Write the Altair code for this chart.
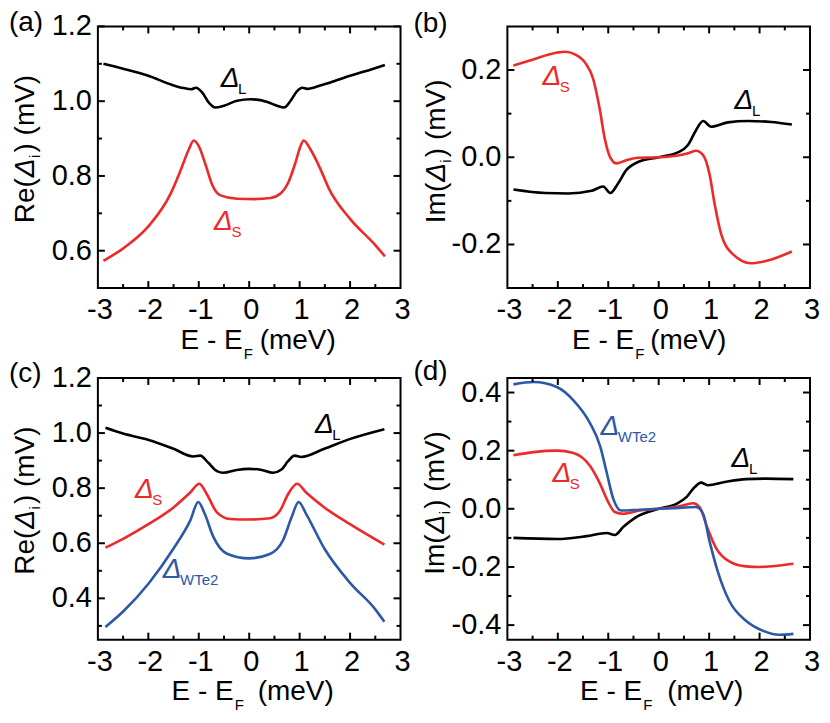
import altair as alt
import pandas as pd

FONT = "Liberation Sans, Arial, Helvetica, sans-serif"
FS = 28
FS_TICK = 29
SUB = 15
RED = "#EC2A2A"
BLUE = "#2B59A8"
BLACK = "#000000"
W, H = 303, 262

# ---------------- data ----------------
# (a) Re(Delta_i)
a_L_E = [-2.89, -2.5, -2.0, -1.56, -1.3, -1.15, -1.06, -0.93, -0.80, -0.67, -0.50, -0.24, 0.03,
         0.36, 0.55, 0.69, 0.82, 0.95, 1.05, 1.15, 1.41, 1.61, 2.0, 2.3, 2.69]
a_L_v = [1.100, 1.087, 1.068, 1.045, 1.035, 1.032, 1.036, 1.023, 0.996, 0.983, 0.988, 1.001, 1.005,
         0.998, 0.988, 0.983, 1.001, 1.027, 1.036, 1.033, 1.042, 1.050, 1.068, 1.080, 1.097]
a_S_E = [-2.89, -2.49, -2.0, -1.56, -1.36, -1.20, -1.10, -1.00, -0.86, -0.73, -0.57, -0.24, 0.09,
         0.42, 0.62, 0.78, 0.92, 1.02, 1.08, 1.21, 1.41, 1.58, 2.0, 2.5, 2.69]
a_S_v = [0.573, 0.607, 0.665, 0.752, 0.815, 0.870, 0.895, 0.880, 0.828, 0.775, 0.748, 0.739, 0.738,
         0.741, 0.753, 0.784, 0.837, 0.881, 0.895, 0.872, 0.819, 0.766, 0.685, 0.615, 0.585]

# (b) Im(Delta_i)
b_S_E = [-2.88, -2.52, -2.01, -1.86, -1.66, -1.46, -1.30, -1.17, -1.07, -0.97, -0.84, -0.67, -0.41,
         0.0, 0.38, 0.60, 0.74, 0.88, 1.01, 1.11, 1.24, 1.47, 1.83, 2.16, 2.64]
b_S_v = [0.210, 0.223, 0.240, 0.242, 0.236, 0.217, 0.180, 0.111, 0.043, 0.002, -0.014, -0.008, -0.001,
         0.0, 0.004, 0.010, 0.015, 0.005, -0.040, -0.108, -0.177, -0.222, -0.243, -0.237, -0.216]
b_L_E = [-2.88, -2.25, -1.79, -1.33, -1.10, -0.96, -0.80, -0.64, -0.41, 0.0, 0.38, 0.58, 0.74,
         0.88, 1.04, 1.37, 1.77, 2.23, 2.64]
b_L_v = [-0.074, -0.082, -0.083, -0.077, -0.067, -0.082, -0.059, -0.029, -0.011, 0.0, 0.011, 0.028, 0.062,
         0.083, 0.070, 0.080, 0.083, 0.081, 0.075]

# (c) Re(Delta_i) with WTe2
c_L_E = [-2.85, -2.5, -1.99, -1.5, -1.11, -0.97, -0.81, -0.64, -0.51, -0.25, 0.0, 0.25, 0.47,
         0.64, 0.77, 0.90, 1.03, 1.49, 1.99, 2.68]
c_L_v = [1.019, 0.998, 0.975, 0.943, 0.915, 0.918, 0.892, 0.862, 0.856, 0.866, 0.870, 0.866, 0.856,
         0.868, 0.898, 0.918, 0.913, 0.943, 0.978, 1.014]
c_S_E = [-2.85, -2.49, -1.99, -1.5, -1.17, -0.99, -0.84, -0.64, -0.38, 0.0, 0.41, 0.61, 0.77,
         0.95, 1.13, 1.49, 1.99, 2.68]
c_S_v = [0.584, 0.617, 0.670, 0.730, 0.784, 0.816, 0.778, 0.712, 0.688, 0.686, 0.691, 0.718, 0.778,
         0.816, 0.784, 0.730, 0.670, 0.595]
c_W_E = [-2.85, -2.49, -1.99, -1.5, -1.17, -1.01, -0.88, -0.71, -0.45, 0.0, 0.41, 0.67, 0.84,
         0.98, 1.13, 1.49, 1.99, 2.50, 2.68]
c_W_v = [0.296, 0.354, 0.455, 0.581, 0.682, 0.750, 0.706, 0.623, 0.563, 0.545, 0.561, 0.611, 0.694,
         0.750, 0.706, 0.581, 0.458, 0.360, 0.315]

# (d) Im(Delta_i) with WTe2
d_W_E = [-2.88, -2.48, -2.02, -1.69, -1.36, -1.16, -1.03, -0.90, -0.74, -0.38, 0.0, 0.41, 0.74,
         0.88, 1.01, 1.17, 1.40, 1.73, 2.06, 2.39, 2.67]
d_W_v = [0.428, 0.436, 0.419, 0.373, 0.294, 0.215, 0.124, 0.034, -0.006, -0.003, 0.0, 0.003, 0.006,
         -0.017, -0.113, -0.215, -0.317, -0.385, -0.419, -0.433, -0.430]
d_S_E = [-2.88, -2.48, -2.02, -1.69, -1.36, -1.16, -1.0, -0.87, -0.70, -0.38, 0.0, 0.41, 0.68,
         0.81, 0.97, 1.14, 1.40, 1.73, 1.99, 2.39, 2.67]
d_S_v = [0.184, 0.195, 0.200, 0.192, 0.147, 0.085, 0.023, -0.011, -0.017, -0.006, 0.0, 0.009, 0.019,
         0.006, -0.068, -0.136, -0.181, -0.198, -0.200, -0.195, -0.189]
d_L_E = [-2.88, -2.02, -1.43, -1.03, -0.87, -0.70, -0.47, 0.0, 0.35, 0.55, 0.71, 0.84, 0.97,
         1.34, 1.73, 2.13, 2.67]
d_L_v = [-0.100, -0.104, -0.094, -0.083, -0.090, -0.062, -0.031, 0.0, 0.017, 0.040, 0.074, 0.090, 0.081,
         0.093, 0.102, 0.104, 0.102]

# axis ticks and tick labels
x_label_vals = [-3, -2, -1, 0, 1, 2, 3]
x_label_text = ["-3", "-2", "-1", "0", "1", "2", "3"]
x_major = [-2, -1, 0, 1, 2]
x_minor = [-2.5, -1.5, -0.5, 0.5, 1.5, 2.5]

a_ydom, a_ymaj, a_ymin = [0.5, 1.2], [0.6, 0.8, 1.0, 1.2], [0.7, 0.9, 1.1]
a_ylab = ["0.6", "0.8", "1.0", "1.2"]
b_ydom, b_ymaj, b_ymin = [-0.3, 0.3], [-0.2, 0.0, 0.2], [-0.1, 0.1]
b_ylab = ["-0.2", "0.0", "0.2"]
c_ydom, c_ymaj, c_ymin = [0.25, 1.2], [0.4, 0.6, 0.8, 1.0, 1.2], [0.3, 0.5, 0.7, 0.9, 1.1]
c_ylab = ["0.4", "0.6", "0.8", "1.0", "1.2"]
d_ydom, d_ymaj, d_ymin = [-0.45, 0.45], [-0.4, -0.2, 0.0, 0.2, 0.4], [-0.3, -0.1, 0.1, 0.3]
d_ylab = ["-0.4", "-0.2", "0.0", "0.2", "0.4"]

# annotations: (E, value, subscript, colour)
a_ann = [(-0.38, 1.060, "L", BLACK), (-0.51, 0.678, "S", RED)]
b_ann = [(-2.12, 0.183, "S", RED), (1.69, 0.128, "L", BLACK)]
c_ann = [(1.49, 1.031, "L", BLACK), (-2.08, 0.792, "S", RED), (-1.53, 0.503, "WTe2", BLUE)]
d_ann = [(-0.97, 0.283, "WTe2", BLUE), (-1.92, 0.119, "S", RED), (1.63, 0.172, "L", BLACK)]

COLORS = {"L": BLACK, "S": RED, "W": BLUE}


def txt(t, x, y, fs=FS, angle=0, align="left", baseline="alphabetic", style="normal", color=BLACK):
    return alt.Chart(pd.DataFrame({"t": [t]})).mark_text(
        font=FONT, fontSize=fs, angle=angle, align=align, baseline=baseline,
        fontStyle=style, color=color
    ).encode(text="t:N", x=alt.value(x), y=alt.value(y))


def panel(tag, tag_y, tag_x, series, ydom, ymaj, ylab, ymin, ann, ypre, xa, xmev, xbase,
          ybx=-64, y0=197):
    xs = alt.Scale(domain=[-3, 3], nice=False, zero=False)
    ys = alt.Scale(domain=ydom, nice=False, zero=False)
    xenc = alt.X("E:Q", scale=xs, axis=None)
    yenc = alt.Y("v:Q", scale=ys, axis=None)
    layers = []
    for name, es, vs in series:
        df = pd.DataFrame({"E": es, "v": vs})
        layers.append(alt.Chart(df).mark_line(
            strokeWidth=2.6, interpolate="monotone", color=COLORS[name]
        ).encode(x=xenc, y=yenc))
    # inward ticks on all four sides
    for vals, L in ((x_major, 7), (x_minor, 4)):
        base = alt.Chart(pd.DataFrame({"E": vals})).mark_rule(color=BLACK, strokeWidth=2)
        layers.append(base.encode(x=xenc, y=alt.value(H), y2=alt.value(H - L)))
        layers.append(base.encode(x=xenc, y=alt.value(0), y2=alt.value(L)))
    for vals, L in ((ymaj, 7), (ymin, 4)):
        base = alt.Chart(pd.DataFrame({"v": vals})).mark_rule(color=BLACK, strokeWidth=2)
        layers.append(base.encode(y=yenc, x=alt.value(0), x2=alt.value(L)))
        layers.append(base.encode(y=yenc, x=alt.value(W), x2=alt.value(W - L)))
    # tick labels
    xl = pd.DataFrame({"E": x_label_vals, "t": x_label_text})
    layers.append(alt.Chart(xl).mark_text(font=FONT, fontSize=FS_TICK, align="center",
                                          baseline="top", dx=2, color=BLACK).encode(
        x=xenc, y=alt.value(H + 8), text="t:N"))
    yl = pd.DataFrame({"v": ymaj, "t": ylab})
    layers.append(alt.Chart(yl).mark_text(font=FONT, fontSize=FS_TICK, align="right",
                                          baseline="middle", color=BLACK).encode(
        y=yenc, x=alt.value(-6), text="t:N"))
    # curve annotations
    adf = pd.DataFrame({"E": [a[0] for a in ann], "v": [a[1] for a in ann],
                        "sym": ["\u0394"] * len(ann), "sub": [a[2] for a in ann],
                        "c": [a[3] for a in ann]})
    layers.append(alt.Chart(adf).mark_text(font=FONT, fontSize=FS, fontStyle="italic",
                                           align="center", baseline="middle").encode(
        x=xenc, y=yenc, text="sym:N", color=alt.Color("c:N", scale=None)))
    layers.append(alt.Chart(adf).mark_text(font=FONT, fontSize=SUB, align="left",
                                           baseline="middle", dx=8, dy=10).encode(
        x=xenc, y=yenc, text="sub:N", color=alt.Color("c:N", scale=None)))
    # panel tag
    layers.append(txt(tag, tag_x, tag_y, baseline="middle"))
    # x title: E - E_F (meV)
    layers.append(txt("E - E", xa, H + xbase, align="right"))
    layers.append(txt("F", xa + 1, H + xbase + 10, fs=SUB))
    layers.append(txt("(meV)", xmev, H + xbase))
    # y title: Re(Delta_i) (mV), rotated
    wpre = 45.1 if ypre == "Re(" else 40.4
    yd = y0 - wpre - 1
    yi = yd - 19.2
    layers.append(txt(ypre, ybx, y0, angle=270))
    layers.append(txt("\u0394", ybx, yd, angle=270, style="italic"))
    layers.append(txt("i", ybx + 6, yi, fs=SUB, angle=270))
    layers.append(txt(") (mV)", ybx, yi - 5.5, angle=270))
    return alt.layer(*layers).properties(width=W, height=H)


pa = panel("(a)", -3, -89, [("L", a_L_E, a_L_v), ("S", a_S_E, a_S_v)],
           a_ydom, a_ymaj, a_ylab, a_ymin, a_ann, "Re(", 145, 162, 61)
pb = panel("(b)", -2, -94, [("L", b_L_E, b_L_v), ("S", b_S_E, b_S_v)],
           b_ydom, b_ymaj, b_ylab, b_ymin, b_ann, "Im(", 127, 143, 61, ybx=-62)
pc = panel("(c)", -4, -89, [("L", c_L_E, c_L_v), ("S", c_S_E, c_S_v), ("W", c_W_E, c_W_v)],
           c_ydom, c_ymaj, c_ylab, c_ymin, c_ann, "Re(", 136, 160, 60)
pd_ = panel("(d)", -6, -94, [("L", d_L_E, d_L_v), ("S", d_S_E, d_S_v), ("W", d_W_E, d_W_v)],
            d_ydom, d_ymaj, d_ylab, d_ymin, d_ann, "Im(", 135, 160, 60, ybx=-63)

chart = alt.concat(
    pa, pb, pc, pd_, columns=2,
    spacing=alt.RowColnumber(row=90, column=107),
    bounds="flush",
).properties(padding=0).configure_view(
    stroke=BLACK, strokeWidth=2
)

chart.save("out.html", embed_options={"renderer": "svg", "actions": False})
